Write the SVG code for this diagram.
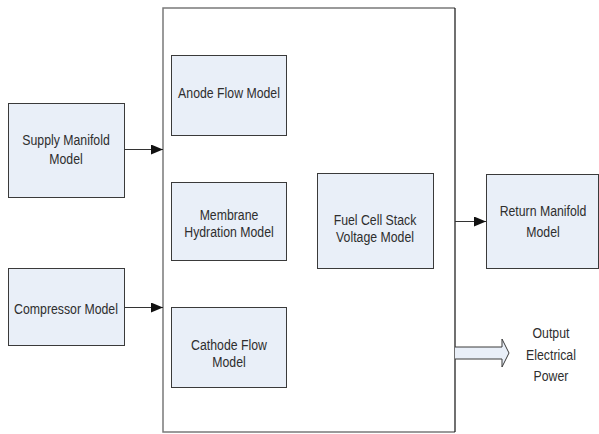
<svg xmlns="http://www.w3.org/2000/svg" width="599" height="434" viewBox="0 0 599 434">
  <style>
    .node { fill: #e9eff8; stroke: #3a3a3a; stroke-width: 1; }
    .lbl { font-family: "Liberation Sans", Arial, sans-serif; font-size: 15px; fill: #2e2e2e; text-anchor: middle; }
    .conn { stroke: #333; stroke-width: 1; fill: none; }
  </style>
  <defs>
    <marker id="arrow" markerWidth="12" markerHeight="10" refX="12" refY="5" orient="auto" markerUnits="userSpaceOnUse">
      <path d="M0,0 L12,5 L0,10 Z" fill="#111"/>
    </marker>
  </defs>
  <rect width="599" height="434" fill="#fff"/>

  <!-- system frame -->
  <g id="system">
    <path d="M455,8 L163,8 L163,432 L455,432" fill="none" stroke="#7a7a7a" stroke-width="1.5"/>
    <line x1="455" y1="8" x2="455" y2="432" stroke="#111" stroke-width="1.2"/>
  </g>

  <!-- labels are set in a condensed sans: scaled horizontally around their anchor -->
  <g id="supply-manifold">
    <rect class="node" x="8.5" y="103.5" width="116" height="94"/>
    <text class="lbl" transform="translate(66,145) scale(0.82,1)">Supply Manifold</text>
    <text class="lbl" transform="translate(66,164) scale(0.82,1)">Model</text>
  </g>

  <g id="compressor">
    <rect class="node" x="8.5" y="268.5" width="116" height="77"/>
    <text class="lbl" transform="translate(66,314) scale(0.82,1)">Compressor Model</text>
  </g>

  <g id="anode-flow">
    <rect class="node" x="171.5" y="55.5" width="115" height="80"/>
    <text class="lbl" transform="translate(229,98) scale(0.82,1)">Anode Flow Model</text>
  </g>

  <g id="membrane-hydration">
    <rect class="node" x="171.5" y="182.5" width="115" height="78"/>
    <text class="lbl" transform="translate(229,220) scale(0.82,1)">Membrane</text>
    <text class="lbl" transform="translate(229,237) scale(0.82,1)">Hydration Model</text>
  </g>

  <g id="cathode-flow">
    <rect class="node" x="171.5" y="307.5" width="115" height="80"/>
    <text class="lbl" transform="translate(229,350) scale(0.82,1)">Cathode Flow</text>
    <text class="lbl" transform="translate(229,367) scale(0.82,1)">Model</text>
  </g>

  <g id="stack-voltage">
    <rect class="node" x="317.5" y="173.5" width="116" height="95"/>
    <text class="lbl" transform="translate(375,225) scale(0.82,1)">Fuel Cell Stack</text>
    <text class="lbl" transform="translate(375,242) scale(0.82,1)">Voltage Model</text>
  </g>

  <g id="return-manifold">
    <rect class="node" x="486.5" y="174.5" width="112" height="94"/>
    <text class="lbl" transform="translate(543,216) scale(0.82,1)">Return Manifold</text>
    <text class="lbl" transform="translate(543,237) scale(0.82,1)">Model</text>
  </g>

  <g id="output-power">
    <path d="M455,347 L502,347 L502,339 L509,353 L502,367 L502,359 L455,359" fill="#e9eff8" stroke="#3a3a3a" stroke-width="1"/>
    <text class="lbl" transform="translate(551,338) scale(0.82,1)">Output</text>
    <text class="lbl" transform="translate(551,360) scale(0.82,1)">Electrical</text>
    <text class="lbl" transform="translate(551,381) scale(0.82,1)">Power</text>
  </g>

  <g id="connectors">
    <line class="conn" x1="124.5" y1="149.5" x2="163" y2="149.5" marker-end="url(#arrow)"/>
    <line class="conn" x1="124.5" y1="307.5" x2="163" y2="307.5" marker-end="url(#arrow)"/>
    <line class="conn" x1="455" y1="221.5" x2="486" y2="221.5" marker-end="url(#arrow)"/>
  </g>
</svg>
